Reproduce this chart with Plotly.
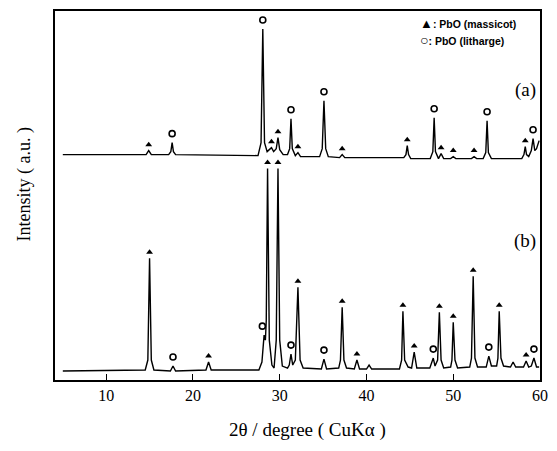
import plotly.graph_objects as go

# ---- data: pattern (a) vertices (2theta, intensity a.u.) ----
a_x = [5.0, 14.6, 14.9, 15.2, 17.2, 17.45, 17.6, 17.75, 18.0,
       27.5, 27.85, 28.05, 28.25, 28.55, 28.8, 29.05, 29.3, 29.6, 29.8, 30.0, 30.4,
       30.9, 31.15, 31.3, 31.45, 31.8, 32.1, 32.4, 34.6, 34.9, 35.1, 35.3, 35.6,
       36.9, 37.2, 37.5, 44.3, 44.55, 44.7, 44.85, 45.1, 47.35, 47.65, 47.8, 47.95,
       48.3, 48.6, 48.9, 49.7, 50.0, 50.3, 52.1, 52.4, 52.7, 53.45, 53.75, 53.9,
       54.05, 54.4, 57.9, 58.15, 58.3, 58.45, 58.7, 59.0, 59.2, 59.4, 59.6, 59.9]
a_y = [226, 226, 230, 226, 226, 229, 238, 229, 226,
       225, 238, 352, 238, 229, 231, 233, 229, 232, 243, 231, 226,
       226, 232, 262, 232, 225, 228, 224, 224, 232, 280, 232, 224,
       223, 226, 223, 223, 226, 235, 226, 222, 222, 229, 263, 229,
       222, 227, 222, 222, 224, 222, 222, 224, 222, 222, 228, 260,
       228, 222, 222, 226, 234, 226, 224, 230, 242, 230, 232, 240]

# ---- data: pattern (b) vertices ----
b_x = [5.0, 14.5, 14.8, 15.0, 15.2, 15.5, 17.4, 17.7, 18.0, 21.5, 21.8, 22.1,
       27.6, 27.95, 28.2, 28.35, 28.45, 28.6, 28.8, 29.1, 29.35, 29.6, 29.8, 30.0,
       30.3, 30.9, 31.1, 31.3, 31.5, 31.8, 32.1, 32.35, 32.7, 34.8, 35.1, 35.4,
       36.8, 37.0, 37.2, 37.4, 37.7, 38.6, 38.9, 39.2, 40.0, 40.3, 40.6,
       43.8, 44.05, 44.2, 44.4, 44.8, 45.2, 45.5, 45.8, 47.3, 47.7, 47.9,
       48.2, 48.4, 48.6, 48.9, 49.7, 49.85, 50.0, 50.2, 50.5, 51.9, 52.1, 52.3,
       52.5, 52.8, 53.8, 54.1, 54.4, 55.0, 55.15, 55.3, 55.5, 55.8, 56.6, 56.9,
       57.2, 58.1, 58.4, 58.7, 59.0, 59.3, 59.6, 59.9]
b_y = [9, 10, 20, 122, 20, 10, 9, 14, 9, 10, 18, 10,
       10, 18, 45, 40, 60, 212, 40, 15, 12, 40, 212, 40,
       14, 12, 15, 26, 15, 20, 93, 20, 12, 11, 21, 11,
       12, 20, 73, 20, 12, 11, 20, 11, 11, 15, 11,
       11, 20, 69, 20, 13, 12, 28, 12, 12, 22, 14,
       20, 68, 20, 12, 13, 20, 58, 20, 12, 13, 22, 104,
       22, 13, 13, 24, 14, 14, 22, 69, 22, 14, 13, 18,
       13, 13, 19, 13, 14, 22, 13, 13]

# ---- data: phase markers (peak position, peak top) ----
a_massicot_x = [14.9, 29.05, 29.8, 32.1, 37.2, 44.7, 48.6, 50.0, 52.4, 58.3]
a_massicot_top = [230, 233, 243, 228, 226, 235, 227, 224, 224, 234]
a_litharge_x = [17.6, 28.05, 31.3, 35.1, 47.8, 53.9, 59.2]
a_litharge_top = [238, 352, 262, 280, 263, 260, 242]

b_massicot_x = [15.0, 21.8, 28.6, 29.8, 32.1, 37.2, 38.9, 44.2, 45.5, 48.4, 50.0, 52.3, 55.3, 58.4]
b_massicot_top = [122, 18, 212, 212, 93, 73, 20, 69, 28, 68, 58, 104, 69, 19]
b_litharge_x = [17.7, 28.0, 31.3, 35.1, 47.7, 54.1, 59.3]
b_litharge_top = [14, 45, 26, 21, 22, 24, 22]

x_ticks = [10, 20, 30, 40, 50, 60]

TRI_OFF = 6
CIR_OFF = 9

fig = go.Figure()
line = dict(color="black", width=1.4)
fig.add_trace(go.Scatter(x=a_x, y=a_y, mode="lines", line=line, hoverinfo="skip"))
fig.add_trace(go.Scatter(x=b_x, y=b_y, mode="lines", line=line, hoverinfo="skip"))

tri = dict(symbol="triangle-up", size=6, color="black")
cir = dict(symbol="circle-open", size=6, color="black", line=dict(width=1.6, color="black"))
fig.add_trace(go.Scatter(x=a_massicot_x, y=[v + TRI_OFF for v in a_massicot_top],
                         mode="markers", marker=tri, hoverinfo="skip"))
fig.add_trace(go.Scatter(x=b_massicot_x, y=[v + TRI_OFF for v in b_massicot_top],
                         mode="markers", marker=tri, hoverinfo="skip"))
fig.add_trace(go.Scatter(x=a_litharge_x, y=[v + CIR_OFF for v in a_litharge_top],
                         mode="markers", marker=cir, hoverinfo="skip"))
fig.add_trace(go.Scatter(x=b_litharge_x, y=[v + CIR_OFF for v in b_litharge_top],
                         mode="markers", marker=cir, hoverinfo="skip"))

serif = "Liberation Serif"
fig.update_layout(
    width=557, height=451,
    margin=dict(l=55, r=9, t=10, b=71),
    paper_bgcolor="white", plot_bgcolor="white",
    showlegend=False,
    xaxis=dict(range=[4.1, 60.0], tickvals=x_ticks, ticks="inside", ticklen=6,
               tickcolor="black", tickwidth=1.3,
               showline=True, linecolor="black", linewidth=1.5, mirror=True,
               showgrid=False, zeroline=False,
               tickfont=dict(family=serif, size=16, color="black")),
    yaxis=dict(range=[0, 370], showticklabels=False, ticks="",
               showline=True, linecolor="black", linewidth=1.5, mirror=True,
               showgrid=False, zeroline=False),
    annotations=[
        dict(text="2θ / degree ( CuKα )", xref="paper", yref="paper", x=0.52, y=-0.135,
             showarrow=False, font=dict(family=serif, size=19, color="black"),
             xanchor="center", yanchor="middle"),
        dict(text="Intensity ( a.u. )", xref="paper", yref="paper", x=-0.064, y=0.53,
             textangle=-90, showarrow=False,
             font=dict(family=serif, size=18, color="black"),
             xanchor="center", yanchor="middle"),
        dict(text="<b><span style='font-size:13px'>▲</span>: PbO (massicot)</b>",
             xref="paper", yref="paper", x=0.749, y=0.965,
             showarrow=False, xanchor="left", yanchor="middle",
             font=dict(family="Liberation Sans", size=10.5, color="black")),
        dict(text="<b><span style='font-size:14px'>○</span>: PbO (litharge)</b>",
             xref="paper", yref="paper", x=0.749, y=0.921,
             showarrow=False, xanchor="left", yanchor="middle",
             font=dict(family="Liberation Sans", size=10.5, color="black")),
        dict(text="(a)", xref="paper", yref="paper", x=0.995, y=0.787,
             showarrow=False, xanchor="right", yanchor="middle",
             font=dict(family=serif, size=19, color="black")),
        dict(text="(b)", xref="paper", yref="paper", x=0.995, y=0.378,
             showarrow=False, xanchor="right", yanchor="middle",
             font=dict(family=serif, size=19, color="black")),
    ],
)
fig.write_html("out.html")
